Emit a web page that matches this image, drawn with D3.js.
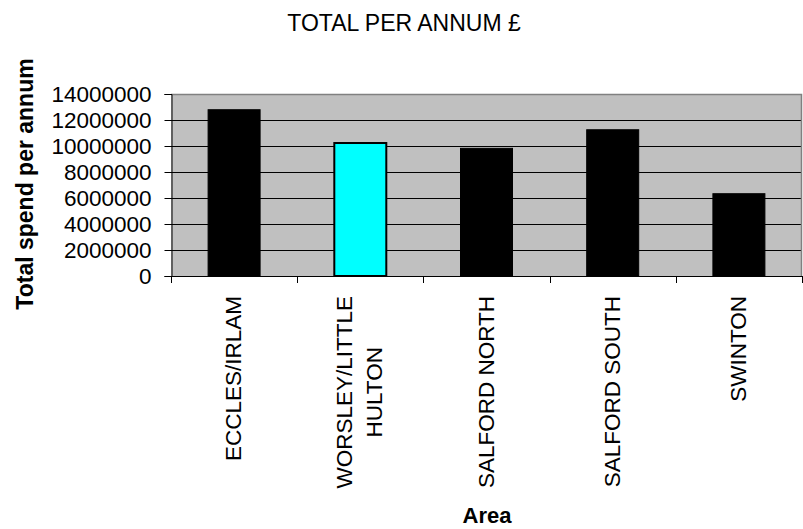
<!DOCTYPE html>
<html>
<head>
<meta charset="utf-8">
<script src="https://cdn.jsdelivr.net/npm/d3@7"></script>
<style>
  html, body { margin: 0; padding: 0; background: #fff; }
  svg { display: block; }
  text { font-family: "Liberation Sans", Arial, Helvetica, sans-serif; fill: #000; }
</style>
</head>
<body>
<svg id="chart" width="803" height="529"></svg>
<script>
// Annual spend by area
const areas = ["ECCLES/IRLAM", "WORSLEY/LITTLE\nHULTON", "SALFORD NORTH", "SALFORD SOUTH", "SWINTON"];
const totals = [12790000, 10230000, 9820000, 11250000, 6330000];
const barColors = ["#000000", "#00FFFF", "#000000", "#000000", "#000000"];
const yTicks = [0, 2000000, 4000000, 6000000, 8000000, 10000000, 12000000, 14000000];

const chartTitle = "TOTAL PER ANNUM £";
const yTitle = "Total spend per annum";
const xTitle = "Area";

const svg = d3.select("#chart");
const plot = { left: 171, right: 802, top: 94, bottom: 276 };

const y = d3.scaleLinear().domain([0, 14000000]).range([plot.bottom, plot.top]);
const x = d3.scaleBand().domain(areas).range([plot.left, plot.right])
  .paddingInner(0.588).paddingOuter(0.294);
const slots = d3.scaleBand().domain(areas).range([plot.left, plot.right]).padding(0);

// plot background
svg.append("rect")
  .attr("x", plot.left).attr("y", plot.top)
  .attr("width", plot.right - plot.left).attr("height", plot.bottom - plot.top)
  .attr("fill", "#C0C0C0");

// gridlines
svg.append("g").selectAll("line")
  .data(yTicks.filter(t => t > 0 && t < 14000000))
  .join("line")
  .attr("x1", plot.left).attr("x2", plot.right)
  .attr("y1", d => Math.round(y(d)) + 0.5).attr("y2", d => Math.round(y(d)) + 0.5)
  .attr("stroke", "#000").attr("stroke-width", 1);

// plot frame (top and right)
svg.append("path")
  .attr("d", `M${plot.left},${plot.top + 0.5}H${plot.right - 0.5}V${plot.bottom}`)
  .attr("fill", "none").attr("stroke", "#808080").attr("stroke-width", 1.5);

// bars
svg.append("g").selectAll("rect")
  .data(areas)
  .join("rect")
  .attr("x", d => x(d))
  .attr("y", (d, i) => y(totals[i]))
  .attr("width", x.bandwidth())
  .attr("height", (d, i) => y(0) - y(totals[i]))
  .attr("fill", (d, i) => barColors[i])
  .attr("stroke", "#000")
  .attr("stroke-width", (d, i) => barColors[i] === "#000000" ? 1 : 2);

// y axis
const yAxis = d3.axisLeft(y).tickValues(yTicks).tickSize(7).tickPadding(13)
  .tickFormat(d3.format("d"));
const gy = svg.append("g").attr("transform", `translate(${plot.left + 0.5},0)`).call(yAxis);
gy.select(".domain").attr("stroke", "#000");
gy.selectAll(".tick line").attr("stroke", "#000");
gy.selectAll(".tick text")
  .attr("font-family", "'Liberation Sans', Arial, sans-serif")
  .attr("font-size", 22.5).attr("fill", "#000");

// x axis line and slot boundary ticks
svg.append("line")
  .attr("x1", plot.left).attr("x2", plot.right)
  .attr("y1", plot.bottom + 0.5).attr("y2", plot.bottom + 0.5)
  .attr("stroke", "#000");
const boundaries = areas.map(a => slots(a)).concat([plot.right]);
svg.append("g").selectAll("line")
  .data(boundaries)
  .join("line")
  .attr("x1", d => Math.round(d) + 0.5).attr("x2", d => Math.round(d) + 0.5)
  .attr("y1", plot.bottom).attr("y2", plot.bottom + 7)
  .attr("stroke", "#000");

// rotated category labels
const labelTop = 296, lineGap = 30, fs = 22.5;
areas.forEach(a => {
  const lines = a.split("\n");
  const cx = x(a) + x.bandwidth() / 2;
  const g = svg.append("g");
  const texts = lines.map((ln, i) => g.append("text")
    .attr("font-size", fs)
    .attr("text-anchor", "middle")
    .text(ln));
  const maxLen = d3.max(texts, t => t.node().getComputedTextLength());
  texts.forEach((t, i) => {
    const bx = cx + 7 + (i - (lines.length - 1) / 2) * lineGap;
    const by = labelTop + maxLen / 2;
    t.attr("transform", `translate(${bx},${by}) rotate(-90)`);
  });
});

// titles
svg.append("text")
  .attr("x", 404).attr("y", 31)
  .attr("text-anchor", "middle").attr("font-size", 23)
  .text(chartTitle);

svg.append("text")
  .attr("transform", "translate(33,184) rotate(-90)")
  .attr("text-anchor", "middle").attr("font-size", 23).attr("font-weight", "bold")
  .text(yTitle);

svg.append("text")
  .attr("x", 487).attr("y", 523)
  .attr("text-anchor", "middle").attr("font-size", 22).attr("font-weight", "bold")
  .text(xTitle);
</script>
</body>
</html>
